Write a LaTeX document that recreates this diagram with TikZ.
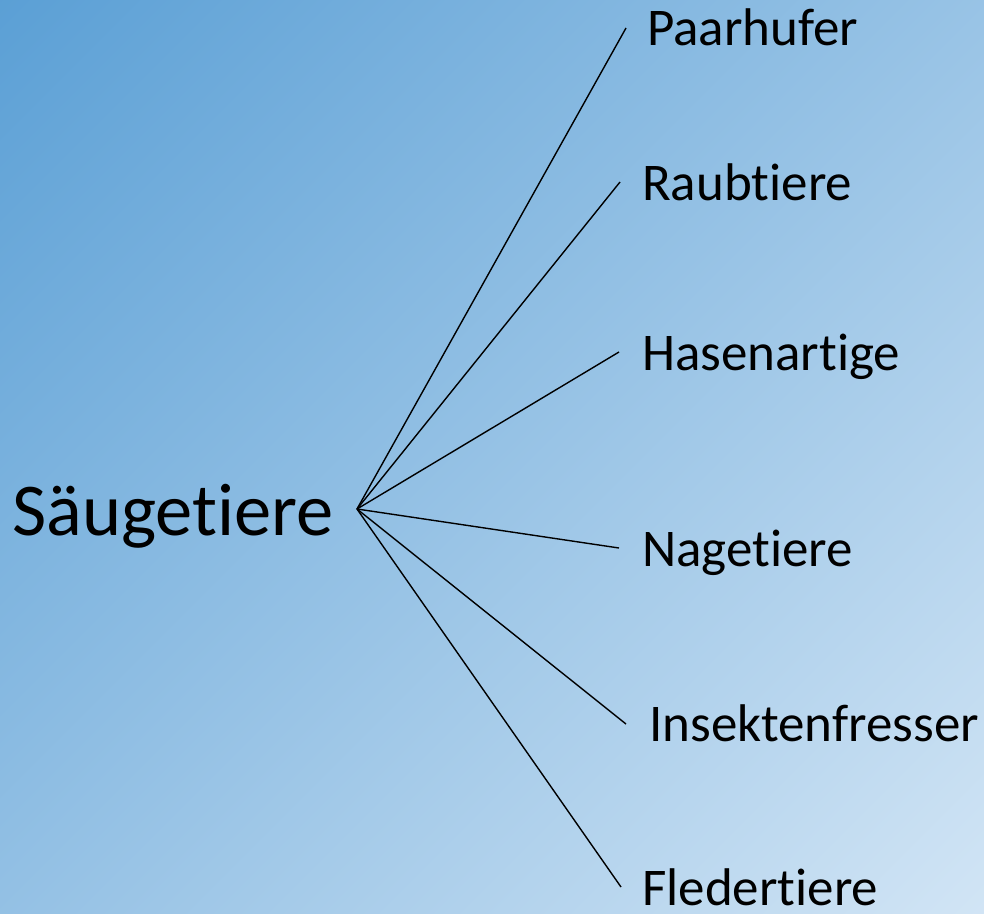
\documentclass[tikz,border=0pt]{standalone}
\usepackage{fontspec}
\setmainfont{Carlito}[Ligatures=NoCommon]
\definecolor{bgA}{HTML}{5A9FD5}
\definecolor{bgB}{HTML}{D2E5F5}
\pgfdeclareverticalshading{bgsh}{100bp}{color(0bp)=(bgB); color(14bp)=(bgB); color(86bp)=(bgA); color(100bp)=(bgA)}
\begin{document}
\begin{tikzpicture}[x=1pt,y=-1pt,
  leaf/.style={anchor=base west,inner sep=0pt,font=\fontsize{53}{60}\selectfont},
  root/.style={anchor=base west,inner sep=0pt,font=\fontsize{74.5}{80}\selectfont},
  branch/.style={line width=1.4pt,black}]
\path[shading=bgsh,shading angle=45] (0,0) rectangle (984,913);
\useasboundingbox (0,0) rectangle (984,913);
\node[root] (s) at (12,535) {Säugetiere};
\coordinate (hub) at (357,509);
\node[leaf] (p) at (647,45) {Paarhufer};
\node[leaf] (r) at (642,200) {Raubtiere};
\node[leaf] (h) at (642,370) {Hasenartige};
\node[leaf] (n) at (642,566) {Nagetiere};
\node[leaf] (i) at (649,741) {Insektenfresser};
\node[leaf] (f) at (642,905) {Fledertiere};
\coordinate (ep) at (626,28);
\coordinate (er) at (620,182);
\coordinate (eh) at (619,352);
\coordinate (en) at (619,548);
\coordinate (ei) at (626,724);
\coordinate (ef) at (621,887);
\foreach \e in {ep,er,eh,en,ei,ef} \draw[branch] (hub) -- (\e);
\end{tikzpicture}
\end{document}
